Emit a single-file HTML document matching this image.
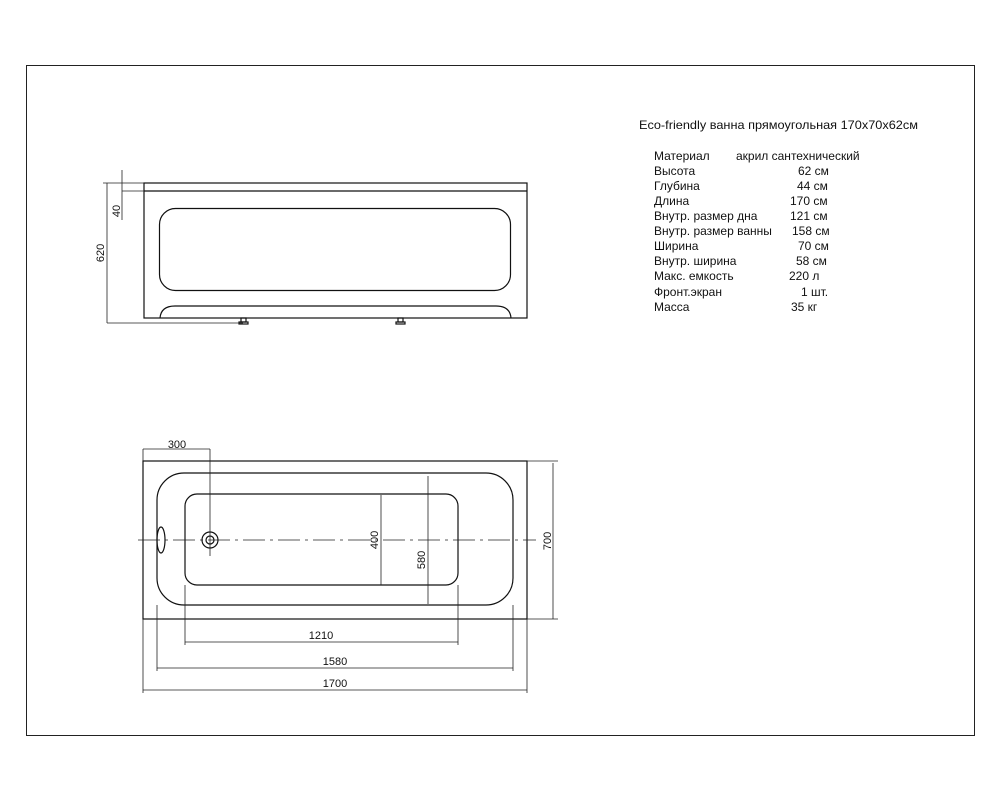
<!DOCTYPE html>
<html><head><meta charset="utf-8"><style>
html,body{margin:0;padding:0;background:#fff;}
svg{display:block;}
text{font-family:"Liberation Sans","DejaVu Sans",sans-serif;fill:#111;}
.dim{font-family:"Liberation Sans Narrow","Liberation Sans",sans-serif;font-size:11px;}
</style></head><body>
<svg width="1000" height="800" viewBox="0 0 1000 800" xmlns="http://www.w3.org/2000/svg">
<rect x="26.5" y="65.5" width="948" height="670" fill="none" stroke="#222" stroke-width="1"/>
<g fill="none" stroke="#111" stroke-width="1.2">
<rect x="144" y="183" width="383" height="135"/>
<line x1="144" y1="191" x2="527" y2="191"/>
<rect x="159.5" y="208.5" width="351" height="82" rx="16"/>
<path d="M160 318 Q161 306 175 306 L496 306 Q510 306 511 318"/>
<rect x="241" y="318" width="5" height="4"/><rect x="239" y="322" width="9" height="2"/>
<rect x="398" y="318" width="5" height="4"/><rect x="396" y="322" width="9" height="2"/>
</g>
<g fill="none" stroke="#222" stroke-width="0.8">
<line x1="107" y1="183" x2="107" y2="323"/>
<line x1="103" y1="183" x2="144" y2="183"/>
<line x1="107" y1="323" x2="243" y2="323"/>
<line x1="122" y1="170" x2="122" y2="220"/>
<line x1="122" y1="191" x2="144" y2="191"/>
</g>
<text class="dim" transform="translate(104,253) rotate(-90)" text-anchor="middle">620</text>
<text class="dim" transform="translate(120,211) rotate(-90)" text-anchor="middle">40</text>
<g fill="none" stroke="#111" stroke-width="1.2">
<rect x="143" y="461" width="384" height="158"/>
<rect x="157" y="473" width="356" height="132" rx="27"/>
<rect x="185" y="494" width="273" height="91" rx="12"/>
<circle cx="210" cy="540" r="8"/><circle cx="210" cy="540" r="4"/>
<ellipse cx="161" cy="540" rx="4" ry="13"/>
</g>
<line x1="138" y1="540" x2="536" y2="540" stroke="#222" stroke-width="0.8" stroke-dasharray="22,5,3,5"/>
<g fill="none" stroke="#222" stroke-width="0.8">
<line x1="143" y1="449" x2="210" y2="449"/><line x1="143" y1="449" x2="143" y2="461"/>
<line x1="210" y1="449" x2="210" y2="556"/>
<line x1="381" y1="495" x2="381" y2="585"/>
<line x1="428" y1="476" x2="428" y2="604"/>
<line x1="553" y1="463" x2="553" y2="619"/>
<line x1="527" y1="461" x2="558" y2="461"/><line x1="527" y1="619" x2="558" y2="619"/>
<line x1="185" y1="642" x2="458" y2="642"/><line x1="185" y1="585" x2="185" y2="645"/><line x1="458" y1="585" x2="458" y2="645"/>
<line x1="157" y1="668" x2="513" y2="668"/><line x1="157" y1="605" x2="157" y2="671"/><line x1="513" y1="605" x2="513" y2="671"/>
<line x1="143" y1="690" x2="527" y2="690"/><line x1="143" y1="619" x2="143" y2="693"/><line x1="527" y1="619" x2="527" y2="693"/>
</g>
<text class="dim" x="177" y="448" text-anchor="middle">300</text>
<text class="dim" transform="translate(378,540) rotate(-90)" text-anchor="middle">400</text>
<text class="dim" transform="translate(425,560) rotate(-90)" text-anchor="middle">580</text>
<text class="dim" transform="translate(551,541) rotate(-90)" text-anchor="middle">700</text>
<text class="dim" x="321" y="639" text-anchor="middle">1210</text>
<text class="dim" x="335" y="665" text-anchor="middle">1580</text>
<text class="dim" x="335" y="687" text-anchor="middle">1700</text>
<g font-size="12">
<text x="639" y="129" textLength="279" lengthAdjust="spacingAndGlyphs">Eco-friendly ванна прямоугольная  170x70x62см</text>
<text x="654" y="160">Материал</text><text x="736" y="160">акрил сантехнический</text>
<text x="654" y="175">Высота</text><text x="798" y="175">62 см</text>
<text x="654" y="190">Глубина</text><text x="797" y="190">44 см</text>
<text x="654" y="205">Длина</text><text x="790" y="205">170 см</text>
<text x="654" y="220">Внутр. размер дна</text><text x="790" y="220">121 см</text>
<text x="654" y="235">Внутр. размер ванны</text><text x="792" y="235">158 см</text>
<text x="654" y="250">Ширина</text><text x="798" y="250">70 см</text>
<text x="654" y="265">Внутр. ширина</text><text x="796" y="265">58 см</text>
<text x="654" y="280">Макс. емкость</text><text x="789" y="280">220 л</text>
<text x="654" y="296">Фронт.экран</text><text x="801" y="296">1 шт.</text>
<text x="654" y="311">Масса</text><text x="791" y="311">35 кг</text>
</g>
</svg>
</body></html>
